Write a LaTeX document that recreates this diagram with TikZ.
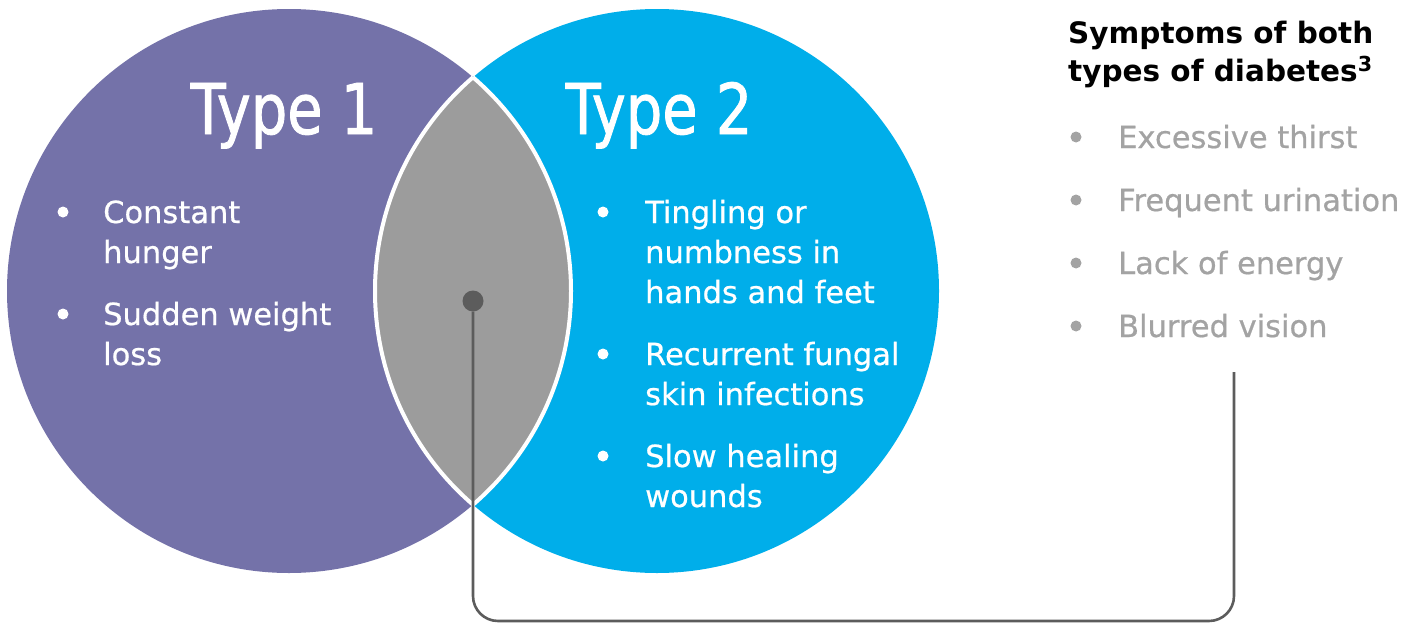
\documentclass[tikz,border=0pt]{standalone}
\usepackage{fontspec}
\setmainfont{DejaVu Sans}
\newfontfamily\titlefont[FakeStretch=0.82, FakeBold=1.2]{DejaVu Sans}
\newfontfamily\itemfont[FakeBold=0.6]{DejaVu Sans}

\definecolor{typeone}{HTML}{7472A9}
\definecolor{typetwo}{HTML}{00AEEA}
\definecolor{overlap}{HTML}{9C9C9C}
\definecolor{softgray}{HTML}{A3A3A3}
\definecolor{linkgray}{HTML}{5C5C5C}

\tikzset{
  item/.style={anchor=base west, inner sep=0pt, font=\itemfont\fontsize{30.5}{40}\selectfont},
  headline/.style={anchor=base, inner sep=0pt, text=white, font=\titlefont\fontsize{70}{70}\selectfont},
  link/.style={draw=linkgray, line width=2.6pt, rounded corners=25pt}
}

\begin{document}
\begin{tikzpicture}[x=1pt, y=-1pt]

        \useasboundingbox (0, 0) rectangle (1425, 624);

        % --- Cerchi (Type 1, Type 2) ---
        \fill[typeone] (289, 291) circle[radius=282pt];
        \fill[typetwo] (657, 291) circle[radius=282pt];

        % --- Zona comune ---
        \begin{scope}
            \clip (289, 291) circle[radius=282pt];
            \filldraw[fill=overlap, draw=white, line width=4pt] (657, 291) circle[radius=282pt];
        \end{scope}
        \begin{scope}
            \clip (657, 291) circle[radius=282pt];
            \draw[white, line width=4pt] (289, 291) circle[radius=282pt];
        \end{scope}

        % --- Titoli ---
        \node[headline] (titleone) at (284, 134) {Type 1};
        \node[headline] (titletwo) at (659, 134) {Type 2};

        % --- Sintomi Type 1 ---
        \foreach \y/\txt [count=\i] in {223/Constant, 263/hunger, 325/Sudden weight, 365/loss} {
            \node[item, text=white] (one-\i) at (103, \y) {\txt};
        }
        \foreach \y in {212, 314} {
            \fill[white] (63, \y) circle (5.5pt);
        }

        % --- Sintomi Type 2 ---
        \foreach \y/\txt [count=\i] in {223/Tingling or, 263/numbness in, 303/hands and feet,
                365/Recurrent fungal, 405/skin infections, 467/Slow healing, 507/wounds} {
            \node[item, text=white] (two-\i) at (645, \y) {\txt};
        }
        \foreach \y in {212, 354, 456} {
            \fill[white] (603, \y) circle (5.5pt);
        }

        % --- Sintomi comuni a destra ---
        \node[anchor=base west, inner sep=0pt, font=\bfseries\fontsize{29.5}{38}\selectfont] (both-a)
            at (1068, 43) {Symptoms of both};
        \node[anchor=base west, inner sep=0pt, font=\bfseries\fontsize{29.5}{38}\selectfont] (both-b)
            at (1068, 81) {types of diabetes\textsuperscript{3}};
        \foreach \y/\txt [count=\i] in {148/Excessive thirst, 211/Frequent urination,
                274/Lack of energy, 337/Blurred vision} {
            \node[item, text=softgray] (common-\i) at (1118, \y) {\txt};
            \fill[softgray] (1076, \y-11) circle (5.5pt);
        }

        % --- Collegamento ---
        \node[circle, fill=linkgray, minimum size=21pt, inner sep=0pt] (dot) at (473, 301) {};
        \coordinate (listend) at (1234, 372);
        \draw[link] (dot.south) -- (dot |- 0, 621) -- (listend |- 0, 621) -- (listend);

    \end{tikzpicture}
\end{document}
